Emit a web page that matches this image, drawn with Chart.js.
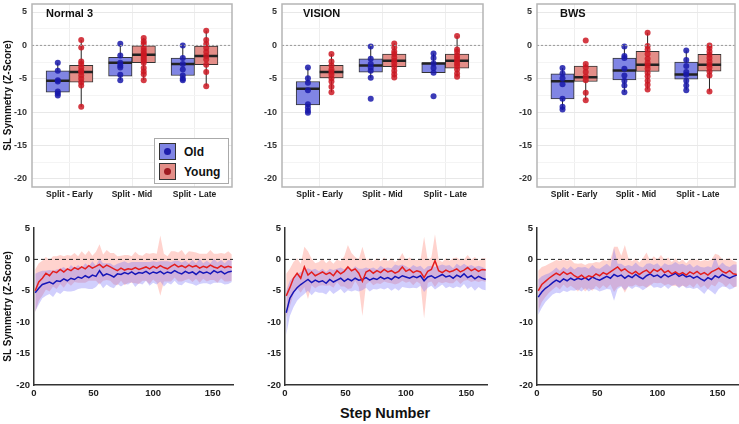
<!DOCTYPE html>
<html lang="en">
<head>
<meta charset="UTF-8">
<title>SL Symmetry</title>
<script src="https://cdn.jsdelivr.net/npm/chart.js@4.4.1/dist/chart.umd.min.js"></script>
<style>
  body { margin: 0; background: #fff; font-family: "Liberation Sans", Arial, sans-serif; }
  #wrap { position: relative; width: 739px; height: 424px; overflow: hidden; }
  .pane { position: absolute; }
  .ttl { position: absolute; font-weight: bold; font-size: 11px; color: #111; line-height: 14px; }
  #legend { position: absolute; left: 154px; top: 138px; width: 73px; height: 44px; border: 1px solid #aaa; background: #fff; }
  .row { position: absolute; left: 4px; height: 17px; display: flex; align-items: center; }
  .key { width: 15px; height: 15px; border: 1px solid #333; position: relative; margin-right: 8px; }
  .key i { position: absolute; left: 4px; top: 4px; width: 7px; height: 7px; border-radius: 50%; }
  .row span { font-size: 12px; font-weight: bold; color: #111; }
  #xlab { position: absolute; left: 285px; width: 200px; top: 405px; text-align: center; font-size: 14.5px; font-weight: bold; color: #111; }
</style>
</head>
<body>
<div id="wrap">
  <div class="pane" style="left:0;top:0"><canvas id="top1" width="240" height="200"></canvas></div>
  <div class="pane" style="left:250px;top:0"><canvas id="top2" width="240" height="200"></canvas></div>
  <div class="pane" style="left:505px;top:0"><canvas id="top3" width="234" height="200"></canvas></div>
  <div class="pane" style="left:0;top:218px"><canvas id="bot1" width="240" height="186"></canvas></div>
  <div class="pane" style="left:250px;top:218px"><canvas id="bot2" width="240" height="186"></canvas></div>
  <div class="pane" style="left:505px;top:218px"><canvas id="bot3" width="234" height="186"></canvas></div>

  <div class="ttl" style="left:46px;top:6px">Normal 3</div>
  <div class="ttl" style="left:303px;top:6px">VISION</div>
  <div class="ttl" style="left:560px;top:6px">BWS</div>

  <div id="legend">
    <div class="row" style="top:4px"><div class="key" style="background:#8085e4"><i style="background:#1e1eaa"></i></div><span>Old</span></div>
    <div class="row" style="top:24px"><div class="key" style="background:#e38e88"><i style="background:#9e1a20"></i></div><span>Young</span></div>
  </div>
  <div id="xlab">Step Number</div>
</div>

<script>
// ---- box plot data: [lower whisker, q1, median, q3, upper whisker] per category
const categories = ['Split - Early', 'Split - Mid', 'Split - Late'];
const yTicks = [-20, -17.5, -15, -12.5, -10, -7.5, -5, -2.5, 0, 2.5, 5];

const n3OldBox   = [[-7.5, -7.0, -5.3, -3.8, -2.6], [-5.2, -4.6, -2.6, -1.8, 0.25], [-5.2, -4.5, -2.8, -1.9, 0.0]];
const n3YoungBox = [[-9.2, -5.5, -4.0, -3.0, 0.8], [-5.2, -2.6, -1.4, -0.05, 1.1], [-6.1, -2.9, -1.6, -0.1, 2.2]];
const n3OldPts   = [[-2.6, -3.8, -5.2, -5.4, -6.9, -7.2, -7.5], [0.25, -1.5, -2.6, -3.0, -3.3, -4.4, -5.2], [0.0, -1.9, -2.8, -3.6, -4.5, -5.0, -5.2]];
const n3YoungPts = [[0.8, -0.3, -2.4, -2.8, -3.3, -3.8, -4.0, -4.5, -5.0, -5.5, -6.0, -9.2],
                    [1.1, 0.6, 0.2, -0.4, -0.8, -1.2, -1.4, -1.7, -2.0, -2.3, -2.6, -3.4, -3.9, -4.3, -5.2],
                    [2.2, 0.8, 0.2, -0.4, -1.0, -1.6, -2.1, -2.9, -4.0, -6.1]];

const viOldBox   = [[-10.1, -8.9, -6.5, -5.4, -3.3], [-4.85, -4.0, -3.0, -2.0, -0.15], [-4.1, -4.1, -2.7, -2.6, -1.2]];
const viYoungBox = [[-7.0, -4.85, -4.0, -3.0, -1.3], [-4.8, -3.2, -2.3, -1.3, 0.3], [-4.7, -3.4, -2.3, -1.3, 1.4]];
const viOldPts   = [[-3.3, -4.9, -5.6, -6.7, -8.8, -9.3, -9.8, -10.1], [-0.15, -2.0, -2.8, -3.3, -3.8, -4.85, -8.0], [-1.2, -1.9, -2.7, -3.4, -4.1, -7.6]];
const viYoungPts = [[-1.3, -2.4, -3.0, -3.6, -4.0, -4.4, -4.9, -5.4, -6.2, -7.0],
                    [0.3, -0.3, -0.9, -1.3, -1.8, -2.3, -2.7, -3.2, -3.8, -4.3, -4.8],
                    [1.4, -0.6, -1.0, -1.5, -1.9, -2.3, -2.7, -3.1, -3.6, -4.2, -4.7]];

const bwOldBox   = [[-9.65, -8.0, -5.35, -4.25, -3.4], [-7.0, -5.15, -3.75, -1.9, -0.15], [-6.7, -5.05, -4.35, -2.5, -0.75]];
const bwYoungBox = [[-8.2, -5.4, -4.75, -3.1, -2.7], [-6.6, -3.9, -2.9, -0.9, 1.9], [-6.9, -3.85, -2.9, -1.35, 0.0]];
const bwOldPts   = [[-3.4, -4.2, -4.9, -5.8, -8.0, -9.2, -9.6], [-0.15, -1.6, -1.9, -3.5, -4.5, -5.3, -6.0, -7.0], [-0.75, -2.2, -3.1, -4.0, -4.4, -5.3, -6.0, -6.7]];
const bwYoungPts = [[0.75, -2.8, -3.3, -4.0, -4.7, -5.2, -7.1, -8.2],
                    [1.9, -0.1, -0.6, -1.3, -2.0, -2.6, -3.0, -3.5, -4.1, -4.6, -5.3, -5.9, -6.6],
                    [0.0, -0.4, -0.9, -1.4, -1.9, -2.4, -2.9, -3.3, -3.9, -4.5, -6.9]];

// ---- step curves (mean and SD), every 3rd step
const steps = [1, 4, 7, 10, 13, 16, 19, 22, 25, 28, 31, 34, 37, 40, 43, 46, 49, 52, 55, 58, 61, 64, 67, 70, 73, 76, 79, 82,
               85, 88, 91, 94, 97, 100, 103, 106, 109, 112, 115, 118, 121, 124, 127, 130, 133, 136, 139, 142, 145, 148, 151, 154, 157, 160, 163, 166];
const yTicksBottom = [-20, -15, -10, -5, 0, 5];
const xTicksBottom = [0, 50, 100, 150];

const n3Young = [-5.0, -3.6, -3.0, -2.2, -2.6, -1.9, -2.1, -1.6, -2.0, -1.5, -1.8, -1.3, -1.6, -1.2, -1.5, -1.0,
                 -1.4, -1.1, -0.8, -1.3, -0.9, -1.2, -1.5, -1.8, -1.4, -1.7, -1.5, -1.6, -1.3, -1.6, -1.4, -1.2,
                 -1.5, -1.1, -1.4, -1.0, -1.3, -1.5, -1.1, -0.8, -1.2, -1.0, -1.3, -0.9, -1.2, -1.0, -1.4, -1.1,
                 -1.3, -0.9, -1.2, -1.4, -1.0, -1.3, -1.1, -1.3];
const n3Old = [-5.3, -4.6, -4.0, -3.8, -3.6, -3.9, -3.4, -3.5, -3.1, -3.4, -3.0, -3.2, -2.8, -3.0, -2.6, -2.9,
               -2.5, -2.7, -1.8, -2.6, -2.3, -2.5, -2.8, -2.3, -2.4, -2.1, -2.3, -2.0, -2.4, -2.1, -2.2, -1.9,
               -2.3, -2.0, -2.2, -1.9, -2.3, -2.0, -2.2, -1.8, -2.1, -2.3, -1.9, -2.2, -2.0, -2.4, -1.9, -2.2,
               -2.0, -2.3, -1.8, -2.1, -1.9, -2.3, -2.0, -1.9];
const n3YoungSd = [3.4, 3.0, 2.8, 2.6, 2.5, 2.4, 2.6, 2.3, 2.5, 2.2, 2.4, 2.3, 2.1, 2.5, 2.2, 2.4,
                   2.0, 2.3, 3.2, 2.1, 2.4, 2.2, 2.5, 2.3, 2.0, 2.4, 2.2, 2.1, 2.5, 2.3, 2.0, 2.2,
                   2.4, 2.1, 2.3, 4.8, 2.2, 2.0, 2.4, 2.1, 2.3, 2.5, 2.0, 2.2, 2.4, 2.1, 2.3, 2.0,
                   2.2, 2.4, 2.1, 2.3, 2.0, 2.2, 2.4, 2.1];
const n3OldSd = [3.0, 2.6, 2.2, 2.0, 1.9, 2.1, 1.8, 2.0, 1.9, 1.7, 2.1, 1.8, 1.9, 1.6, 2.0, 1.8,
                 2.2, 1.7, 1.9, 2.0, 1.7, 1.9, 1.8, 1.6, 1.9, 1.8, 1.7, 1.6, 2.0, 1.7, 1.8, 1.5,
                 1.9, 1.7, 1.8, 1.6, 2.0, 1.7, 1.8, 1.6, 1.9, 1.8, 1.7, 1.6, 1.9, 1.8, 2.0, 1.6,
                 1.8, 1.7, 1.9, 1.6, 1.8, 1.7, 1.9, 1.7];

const viYoung = [-5.8, -4.5, -3.0, -2.2, -3.0, -1.2, -2.5, -2.0, -2.6, -2.3, -2.0, -2.4, -2.1, -2.6, -1.8, -2.3,
                 -1.9, -1.2, -1.8, -1.5, -2.2, -3.5, -2.0, -1.7, -2.2, -1.8, -2.1, -1.6, -2.0, -1.8, -2.2, -1.9,
                 -1.2, -1.9, -1.6, -2.1, -1.8, -2.0, -2.9, -1.9, -1.6, -0.2, -1.8, -2.1, -1.7, -2.0, -1.8, -1.5,
                 -2.0, -1.7, -1.3, -1.8, -1.5, -1.9, -1.6, -1.7];
const viOld = [-8.5, -6.2, -5.2, -4.5, -4.0, -3.6, -3.2, -3.7, -3.3, -3.6, -3.4, -3.8, -3.2, -3.6, -3.3, -3.0,
               -3.5, -3.1, -3.4, -3.0, -3.3, -3.2, -2.9, -3.3, -3.0, -3.2, -2.8, -3.1, -2.9, -3.2, -2.7, -3.0,
               -2.6, -2.8, -3.0, -2.7, -2.9, -2.6, -3.4, -2.8, -2.6, -3.0, -2.7, -2.4, -2.8, -2.6, -3.0, -2.5,
               -2.8, -2.3, -2.9, -2.6, -3.1, -2.7, -3.0, -3.2];
const viYoungSd = [3.5, 3.0, 2.6, 2.4, 2.3, 3.2, 3.8, 2.1, 2.0, 1.9, 2.1, 1.8, 2.0, 1.9, 1.8, 2.0,
                   2.4, 3.5, 2.8, 1.9, 2.2, 5.5, 2.0, 1.8, 1.9, 2.0, 1.8, 1.9, 1.7, 2.0, 1.8, 1.9,
                   2.2, 1.8, 1.9, 2.0, 1.7, 1.9, 6.5, 1.8, 1.9, 4.2, 1.8, 1.7, 1.9, 1.8, 2.0, 1.8,
                   1.9, 1.7, 2.0, 1.8, 1.9, 1.7, 1.8, 1.9];
const viOldSd = [3.5, 2.8, 2.4, 2.1, 2.0, 1.9, 1.8, 2.0, 1.8, 1.7, 1.9, 1.8, 1.7, 1.9, 1.8, 1.7,
                 1.9, 1.8, 1.7, 1.9, 1.8, 1.7, 1.6, 1.8, 1.7, 1.6, 1.8, 1.7, 1.6, 1.8, 1.9, 2.0,
                 1.8, 1.7, 1.6, 1.8, 1.7, 1.6, 1.8, 1.7, 1.6, 1.8, 1.7, 1.6, 1.8, 1.7, 1.6, 1.8,
                 1.7, 1.6, 1.8, 1.7, 1.9, 1.7, 1.8, 1.7];

const bwYoung = [-5.0, -4.0, -3.5, -3.0, -2.6, -2.2, -2.5, -2.0, -2.4, -2.1, -2.6, -2.9, -2.5, -3.0, -2.6, -2.8,
                 -2.3, -2.6, -2.1, -2.4, -2.0, -1.6, -1.2, -1.8, -1.5, -2.0, -2.3, -1.9, -2.4, -2.0, -1.7, -2.2,
                 -1.6, -1.9, -1.5, -2.1, -1.8, -2.3, -2.0, -2.4, -2.1, -2.5, -2.0, -2.3, -1.9, -2.4, -2.1, -2.5,
                 -2.0, -1.7, -1.4, -1.9, -2.2, -1.8, -2.3, -2.4];
const bwOld = [-6.0, -5.2, -4.6, -4.2, -3.7, -3.3, -3.6, -3.1, -3.4, -3.0, -3.3, -3.0, -3.2, -2.9, -3.3, -2.8,
               -3.1, -3.3, -3.0, -2.7, -3.0, -2.4, -2.7, -2.5, -3.0, -2.6, -2.9, -2.4, -2.8, -3.1, -2.6, -2.3,
               -2.7, -2.5, -2.9, -2.4, -2.8, -2.5, -2.2, -2.7, -2.4, -2.8, -2.6, -3.0, -2.7, -3.1, -3.4, -2.9,
               -3.2, -2.6, -2.9, -2.4, -2.7, -3.0, -2.7, -2.5];
const bwYoungSd = [3.2, 2.8, 2.5, 2.3, 2.2, 2.1, 2.3, 2.0, 2.2, 2.1, 2.0, 2.2, 1.9, 2.1, 2.0, 2.2,
                   1.9, 2.1, 2.0, 2.2, 2.0, 3.6, 3.2, 2.4, 3.8, 2.2, 2.0, 2.1, 1.9, 2.2, 2.8, 2.0,
                   2.1, 1.9, 2.2, 2.0, 2.1, 1.9, 2.2, 2.0, 2.1, 1.9, 2.0, 2.2, 1.9, 2.1, 2.0, 2.3,
                   2.0, 2.6, 2.1, 1.9, 2.2, 2.0, 2.1, 2.0];
const bwOldSd = [2.8, 2.5, 2.2, 2.0, 1.9, 2.0, 1.8, 1.9, 1.8, 1.9, 1.7, 1.8, 1.9, 1.7, 1.8, 1.9,
                 1.7, 1.8, 1.9, 2.0, 1.8, 4.2, 2.0, 1.8, 1.9, 1.7, 1.8, 1.9, 1.7, 1.8, 1.9, 1.7,
                 1.8, 1.9, 1.7, 1.8, 1.9, 1.7, 1.8, 1.9, 1.7, 1.8, 1.9, 1.7, 1.8, 1.9, 2.1, 1.8,
                 1.9, 3.0, 1.8, 1.9, 1.7, 1.8, 1.9, 1.7];

// ---- styling
Chart.defaults.font.family = "'Liberation Sans', Arial, sans-serif";
Chart.defaults.color = '#333';
const DODGE = 0.1875;
const BOX_BLUE = '#8085e4', BOX_RED = '#e38e88';
const PT_BLUE = 'rgba(25,25,170,0.85)', PT_RED = 'rgba(205,25,35,0.85)';
const LINE_BLUE = '#1616b8', LINE_RED = '#e41e1e';
const BAND_BLUE = 'rgba(115,110,250,0.33)', BAND_RED = 'rgba(255,140,125,0.38)';

// horizontal reference line at zero, positioned by the y scale
const zeroLine = {
  id: 'zeroLine',
  afterDatasetsDraw(chart, args, o) {
    const {ctx, chartArea: a, scales: {y}} = chart;
    const py = y.getPixelForValue(0);
    ctx.save();
    ctx.strokeStyle = o.color; ctx.lineWidth = o.width; ctx.setLineDash(o.dash);
    ctx.beginPath(); ctx.moveTo(a.left, py); ctx.lineTo(a.right, py); ctx.stroke();
    ctx.restore();
  }
};
// panel frame for the top row
const frame = {
  id: 'frame',
  afterDraw(chart, args, o) {
    if (!o.show) return;
    const {ctx, chartArea: a} = chart;
    ctx.save(); ctx.strokeStyle = '#b5b5b5'; ctx.lineWidth = 1.5;
    ctx.strokeRect(a.left, a.top, a.right - a.left, a.bottom - a.top);
    ctx.restore();
  }
};
Chart.register(zeroLine, frame);

// fixed scale sizes, no extra label padding around the plot
const fixW = w => s => { s.width = w; s.paddingTop = 0; s.paddingBottom = 0; };
const fixH = h => s => { s.height = h; s.paddingLeft = 0; s.paddingRight = 0; };

const pos = (i, side) => i + 1 + side * DODGE;
const boxData = (boxes, side) => boxes.map((b, i) => ({x: pos(i, side), y: [b[1], b[3]]}));
const whiskerData = (boxes, side) => boxes.flatMap((b, i) => {
  const x = pos(i, side);
  return [{x, y: b[0]}, {x, y: b[1]}, {x, y: null}, {x, y: b[3]}, {x, y: b[4]}, {x, y: null}];
});
const medianData = (boxes, side) => boxes.flatMap((b, i) => {
  const x = pos(i, side);
  return [{x: x - DODGE, y: b[2]}, {x: x + DODGE, y: b[2]}, {x, y: null}];
});
const pointData = (pts, side) => pts.flatMap((arr, i) => arr.map(v => ({x: pos(i, side), y: v})));

function boxChart(id, oldBox, youngBox, oldPts, youngPts, padRight, showTitle) {
  const bar = (data, color) => ({type: 'bar', data, backgroundColor: color, borderColor: '#333', borderWidth: 1,
    borderSkipped: false, grouped: false, barPercentage: 1, categoryPercentage: 1, order: 4});
  const seg = (data, width, order) => ({type: 'line', data, borderColor: '#222', borderWidth: width,
    pointRadius: 0, spanGaps: false, fill: false, order});
  const dots = (data, color) => ({type: 'scatter', data, backgroundColor: color, borderWidth: 0, pointRadius: 3, order: 0});

  new Chart(document.getElementById(id), {
    type: 'bar',
    data: {
      datasets: [
        bar(boxData(oldBox, -1), BOX_BLUE), bar(boxData(youngBox, 1), BOX_RED),
        seg(whiskerData(oldBox, -1), 1, 3), seg(whiskerData(youngBox, 1), 1, 3),
        seg(medianData(oldBox, -1), 2.5, 1), seg(medianData(youngBox, 1), 2.5, 1),
        dots(pointData(oldPts, -1), PT_BLUE), dots(pointData(youngPts, 1), PT_RED)
      ]
    },
    options: {
      responsive: false, animation: false,
      layout: {padding: {top: 2, right: padRight, left: 0, bottom: 0}},
      plugins: {legend: {display: false}, tooltip: {enabled: false},
        zeroLine: {color: '#999', width: 1, dash: [2, 2]}, frame: {show: true}},
      scales: {
        x: {
          type: 'linear', min: 0.4, max: 3.6, offset: false,
          afterBuildTicks: s => { s.ticks = categories.map((c, i) => ({value: i + 1})); },
          afterFit: fixH(13),
          grid: {offset: false, color: '#eeeeee', drawTicks: false},
          border: {display: false},
          ticks: {autoSkip: false, maxRotation: 0, padding: 3, color: '#222',
            font: {size: 8.5, weight: 'bold'}, callback: v => categories[v - 1]}
        },
        y: {
          min: -21.2, max: 6.2,
          afterBuildTicks: s => { s.ticks = yTicks.map(v => ({value: v})); },
          afterFit: fixW(32),
          grid: {drawTicks: false, color: c => (c.tick && c.tick.value % 5 === 0) ? '#e8e8e8' : '#f4f4f4'},
          border: {display: false},
          ticks: {autoSkip: false, padding: 5, color: '#333', font: {size: 9, weight: 'bold'},
            callback: v => (v % 5 === 0 ? String(v) : '')},
          title: {display: showTitle, text: 'SL Symmetry (Z-Score)', color: '#111',
            font: {size: 10, weight: 'bold'}, padding: {top: 2, bottom: 0}}
        }
      }
    }
  });
}

function stepChart(id, oldMean, oldSd, youngMean, youngSd, yWidth, padRight, showTitle) {
  const pts = (mean, sd, k) => steps.map((s, i) => ({x: s, y: mean[i] + k * sd[i]}));
  const edge = (data, fill, color, order) => ({data, fill, backgroundColor: color, borderWidth: 0, pointRadius: 0, order});
  const line = (data, color, order) => ({data, borderColor: color, borderWidth: 1.5, pointRadius: 0, fill: false, order});

  new Chart(document.getElementById(id), {
    type: 'line',
    data: {
      datasets: [
        edge(pts(youngMean, youngSd, 1), '+1', BAND_RED, 3), edge(pts(youngMean, youngSd, -1), false, BAND_RED, 3),
        edge(pts(oldMean, oldSd, 1), '+1', BAND_BLUE, 2), edge(pts(oldMean, oldSd, -1), false, BAND_BLUE, 2),
        line(pts(oldMean, oldSd, 0), LINE_BLUE, 1), line(pts(youngMean, youngSd, 0), LINE_RED, 0)
      ]
    },
    options: {
      responsive: false, animation: false,
      layout: {padding: {top: 10, right: padRight, left: 0, bottom: 0}},
      plugins: {legend: {display: false}, tooltip: {enabled: false},
        zeroLine: {color: '#222', width: 1, dash: [4, 3]}, frame: {show: false}},
      scales: {
        x: {
          type: 'linear', min: 0, max: 167,
          afterBuildTicks: s => { s.ticks = xTicksBottom.map(v => ({value: v})); },
          afterFit: fixH(19),
          grid: {display: false, drawTicks: false},
          border: {display: true, color: '#333', width: 1.5},
          ticks: {autoSkip: false, maxRotation: 0, padding: 3, color: '#222', font: {size: 9.5, weight: 'bold'}}
        },
        y: {
          min: -20, max: 5,
          afterBuildTicks: s => { s.ticks = yTicksBottom.map(v => ({value: v})); },
          afterFit: fixW(yWidth),
          grid: {display: false, drawTicks: false},
          border: {display: true, color: '#333', width: 1.5},
          ticks: {autoSkip: false, padding: 4, color: '#222', font: {size: 9.5, weight: 'bold'}},
          title: {display: showTitle, text: 'SL Symmetry (Z-Score)', color: '#111',
            font: {size: 10, weight: 'bold'}, padding: {top: 2, bottom: 0}}
        }
      }
    }
  });
}

boxChart('top1', n3OldBox, n3YoungBox, n3OldPts, n3YoungPts, 8, true);
boxChart('top2', viOldBox, viYoungBox, viOldPts, viYoungPts, 7, false);
boxChart('top3', bwOldBox, bwYoungBox, bwOldPts, bwYoungPts, 1, false);

stepChart('bot1', n3Old, n3OldSd, n3Young, n3YoungSd, 34, 7, true);
stepChart('bot2', viOld, viOldSd, viYoung, viYoungSd, 35, 3, false);
stepChart('bot3', bwOld, bwOldSd, bwYoung, bwYoungSd, 32, 1, false);
</script>
</body>
</html>
